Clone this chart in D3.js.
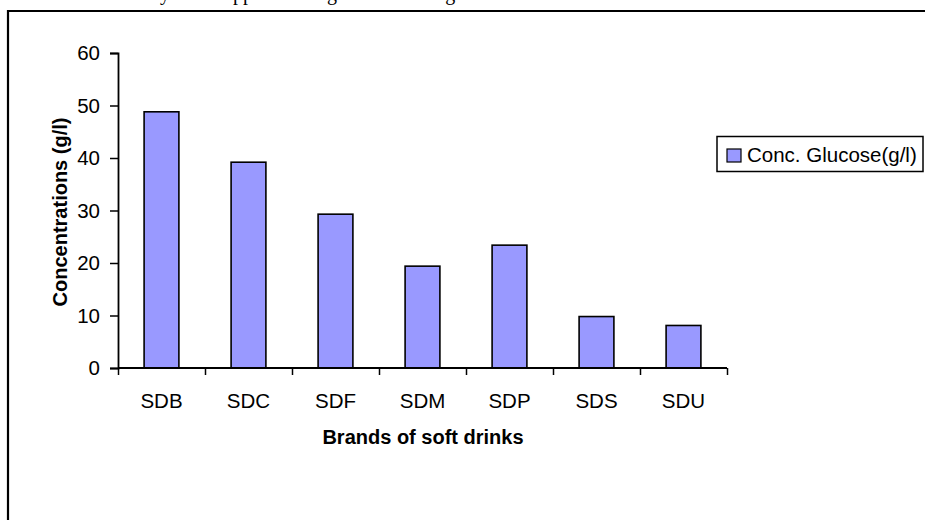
<!DOCTYPE html>
<html>
<head>
<meta charset="utf-8">
<script src="https://cdn.jsdelivr.net/npm/d3@7"></script>
<style>
  html, body { margin: 0; padding: 0; background: #fff; }
  svg { display: block; font-family: Arial, "Liberation Sans", sans-serif; }
</style>
</head>
<body>
<svg id="chart" width="925" height="520"></svg>
<script>
// Glucose concentration per soft-drink brand
const brands = ["SDB", "SDC", "SDF", "SDM", "SDP", "SDS", "SDU"];
const glucose = [48.8, 39.2, 29.3, 19.4, 23.4, 9.8, 8.1];
const yTicks = [0, 10, 20, 30, 40, 50, 60];
const seriesName = "Conc. Glucose(g/l)";

// Words of the running text line above the figure frame (only their descenders show)
const captionWords = ["by", "apparent", "glucose", "using"];
const captionX = [150, 224, 327, 412];

const svg = d3.select("#chart");

svg.append("g")
  .attr("font-family", "'Liberation Serif', 'Times New Roman', serif")
  .attr("font-size", 20)
  .selectAll("text")
  .data(captionWords)
  .join("text")
  .attr("x", (d, i) => captionX[i])
  .attr("y", -0.5)
  .text(d => d);

// Figure frame (top and left edges)
svg.append("path")
  .attr("d", "M8,520 V11 H925")
  .attr("fill", "none")
  .attr("stroke", "#000")
  .attr("stroke-width", 2.2);

const plot = { left: 118, right: 727, top: 53, bottom: 368 };

const x = d3.scaleBand()
  .domain(brands)
  .range([plot.left, plot.right])
  .paddingInner(0.6)
  .paddingOuter(0.3);

const xEdges = d3.scaleLinear()
  .domain([0, brands.length])
  .range([plot.left, plot.right]);

const y = d3.scaleLinear()
  .domain([0, 60])
  .range([plot.bottom, plot.top]);

// Bars
svg.append("g")
  .selectAll("rect")
  .data(brands)
  .join("rect")
  .attr("x", d => x(d))
  .attr("y", (d, i) => y(glucose[i]))
  .attr("width", x.bandwidth())
  .attr("height", (d, i) => y(0) - y(glucose[i]))
  .attr("fill", "#9999ff")
  .attr("stroke", "#000")
  .attr("stroke-width", 1.6);

// Y axis
const yAxis = svg.append("g")
  .attr("transform", `translate(${plot.left},0)`)
  .call(d3.axisLeft(y).tickValues(yTicks).tickSize(8).tickPadding(10).tickFormat(d3.format("d")));
yAxis.select(".domain").attr("stroke-width", 1.8);
yAxis.selectAll(".tick line").attr("stroke-width", 1.5);
yAxis.selectAll("text").attr("font-size", 20.5).attr("font-family", "Arial, 'Liberation Sans', sans-serif").attr("fill", "#000");

// X axis with ticks at category boundaries
const xAxis = svg.append("g")
  .attr("transform", `translate(0,${plot.bottom})`)
  .call(d3.axisBottom(xEdges).ticks(brands.length).tickSize(7).tickFormat(""));
xAxis.select(".domain").attr("stroke-width", 1.8).attr("d", `M${plot.left},0H${plot.right}`);
xAxis.selectAll(".tick line").attr("stroke-width", 1.5);

svg.append("g")
  .selectAll("text")
  .data(brands)
  .join("text")
  .attr("x", d => x(d) + x.bandwidth() / 2)
  .attr("y", 408)
  .attr("text-anchor", "middle")
  .attr("font-size", 20.5)
  .text(d => d);

// Axis titles
svg.append("text")
  .attr("x", (plot.left + plot.right) / 2 + 0.5)
  .attr("y", 444)
  .attr("text-anchor", "middle")
  .attr("font-size", 20)
  .attr("font-weight", "bold")
  .text("Brands of soft drinks");

svg.append("text")
  .attr("transform", "translate(67,212) rotate(-90)")
  .attr("text-anchor", "middle")
  .attr("font-size", 20)
  .attr("font-weight", "bold")
  .text("Concentrations (g/l)");

// Legend
const legend = svg.append("g");
legend.append("rect")
  .attr("x", 717).attr("y", 136.5)
  .attr("width", 206).attr("height", 35)
  .attr("fill", "#fff").attr("stroke", "#000").attr("stroke-width", 1.5);
legend.append("rect")
  .attr("x", 727).attr("y", 149)
  .attr("width", 14).attr("height", 13)
  .attr("fill", "#9999ff").attr("stroke", "#000").attr("stroke-width", 1.2);
legend.append("text")
  .attr("x", 747).attr("y", 162)
  .attr("font-size", 20.5)
  .text(seriesName);
</script>
</body>
</html>
